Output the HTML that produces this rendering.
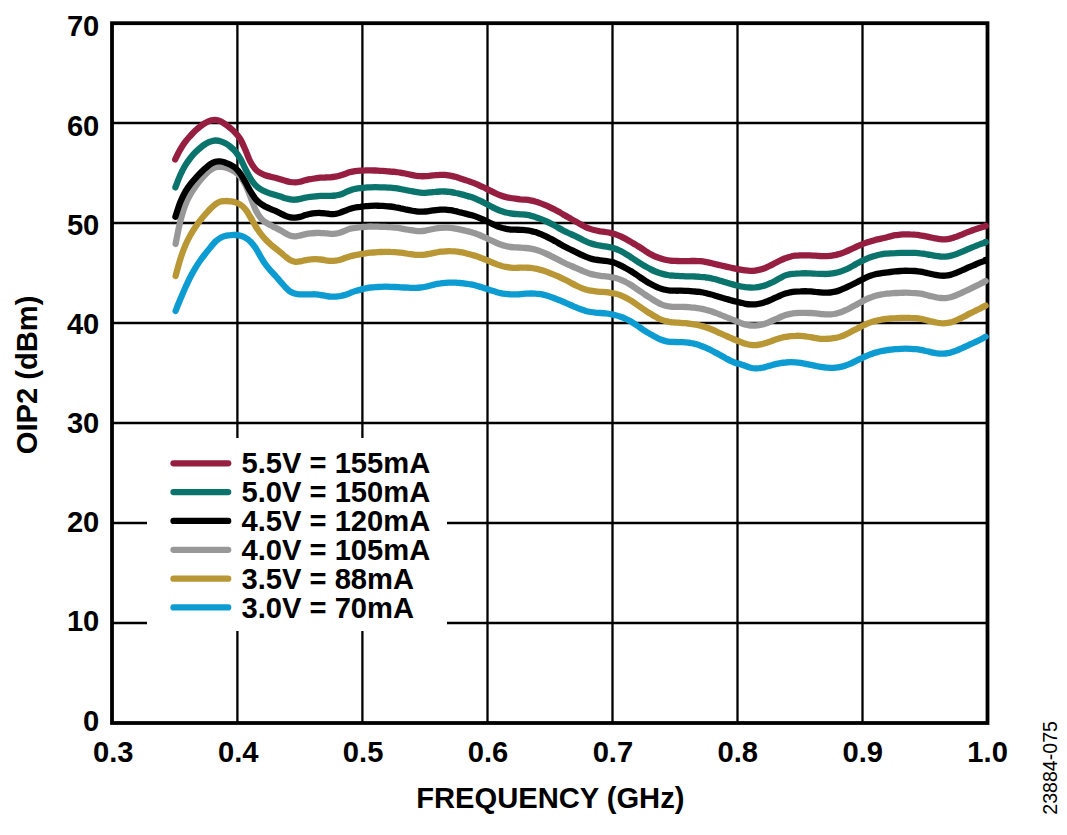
<!DOCTYPE html>
<html><head><meta charset="utf-8"><style>
html,body{margin:0;padding:0;background:#fff;width:1067px;height:835px;overflow:hidden}
svg{display:block}
text{font-family:"Liberation Sans",sans-serif;font-weight:bold;fill:#000}
</style></head><body>
<svg width="1067" height="835" viewBox="0 0 1067 835">
<rect width="1067" height="835" fill="#fff"/>
<!-- grid -->
<g stroke="#000" stroke-width="2.3" fill="none">
<path d="M237.4 23V723M362.4 23V723M487.5 23V723M612.5 23V723M737.5 23V723M862.5 23V723"/>
<path d="M112 123H987.5M112 223H987.5M112 323H987.5M112 423H987.5M112 523H987.5M112 623H987.5"/>
</g>
<!-- legend box -->
<rect x="147" y="438" width="300" height="193" fill="#fff"/>
<!-- frame -->
<rect x="112" y="23.2" width="875.5" height="699.8" fill="none" stroke="#000" stroke-width="3.8"/>
<!-- y tick labels -->
<g font-size="29.8" text-anchor="end">
<text transform="translate(99.3 730.6) scale(0.978 1)">0</text>
<text transform="translate(99.3 631.4) scale(0.978 1)">10</text>
<text transform="translate(99.3 532.3) scale(0.978 1)">20</text>
<text transform="translate(99.3 433.1) scale(0.978 1)">30</text>
<text transform="translate(99.3 333.9) scale(0.978 1)">40</text>
<text transform="translate(99.3 234.8) scale(0.978 1)">50</text>
<text transform="translate(99.3 135.6) scale(0.978 1)">60</text>
<text transform="translate(99.3 36.4) scale(0.978 1)">70</text>
</g>
<!-- x tick labels -->
<g font-size="29.8" text-anchor="middle">
<text transform="translate(113.3 762.1) scale(0.978 1)">0.3</text>
<text transform="translate(238.2 762.1) scale(0.978 1)">0.4</text>
<text transform="translate(363.1 762.1) scale(0.978 1)">0.5</text>
<text transform="translate(488.0 762.1) scale(0.978 1)">0.6</text>
<text transform="translate(612.9 762.1) scale(0.978 1)">0.7</text>
<text transform="translate(737.8 762.1) scale(0.978 1)">0.8</text>
<text transform="translate(862.7 762.1) scale(0.978 1)">0.9</text>
<text transform="translate(987.6 762.1) scale(0.978 1)">1.0</text>
</g>
<text transform="translate(550.3 808.4) scale(0.978 1)" font-size="29.8" text-anchor="middle">FREQUENCY (GHz)</text>
<text transform="translate(36.6 374.9) rotate(-90) scale(0.978 1)" font-size="29.8" text-anchor="middle">OIP2 (dBm)</text>
<text transform="translate(1056.5 767.9) rotate(-90)" font-size="19.6" text-anchor="middle" style="font-weight:normal">23884-075</text>
<!-- legend -->
<g stroke-width="6.3" stroke-linecap="round" fill="none">
<path d="M173.5 463.3H228.2" stroke="#961E40"/>
<path d="M173.5 492.1H228.2" stroke="#0A736C"/>
<path d="M173.5 520.9H228.2" stroke="#000"/>
<path d="M173.5 549.8H228.2" stroke="#989898"/>
<path d="M173.5 578.7H228.2" stroke="#BA9735"/>
<path d="M173.5 607.4H228.2" stroke="#0C9CD2"/>
</g>
<g font-size="29.8">
<text transform="translate(241.5 472.8) scale(0.978 1)">5.5V = 155mA</text>
<text transform="translate(241.5 501.9) scale(0.978 1)">5.0V = 150mA</text>
<text transform="translate(241.5 531.0) scale(0.978 1)">4.5V = 120mA</text>
<text transform="translate(241.5 560.1) scale(0.978 1)">4.0V = 105mA</text>
<text transform="translate(241.5 589.2) scale(0.978 1)">3.5V = 88mA</text>
<text transform="translate(241.5 618.3) scale(0.978 1)">3.0V = 70mA</text>
</g>
<!-- curves -->
<g id="curves" stroke-width="6.3" stroke-linecap="round" stroke-linejoin="round" fill="none">
<path stroke="#0C9CD2" d="M175.6 311.0C176.4 308.9 178.9 302.6 180.6 298.6C182.3 294.6 183.9 290.7 185.6 287.0C187.3 283.4 188.9 279.8 190.6 276.5C192.3 273.3 193.9 270.4 195.6 267.6C197.3 264.8 198.9 262.3 200.6 260.0C202.3 257.6 203.9 255.5 205.6 253.4C207.3 251.3 208.9 249.2 210.6 247.2C212.3 245.2 213.9 243.0 215.6 241.4C217.3 239.9 218.9 238.6 220.6 237.7C222.3 236.8 223.9 236.4 225.6 235.9C227.3 235.5 228.9 235.3 230.6 235.2C232.3 235.0 233.9 234.9 235.6 235.0C237.3 235.1 238.9 235.3 240.6 235.7C242.3 236.2 243.9 236.9 245.6 237.9C247.3 238.9 248.9 240.0 250.6 241.7C252.3 243.4 253.9 245.5 255.6 248.0C257.3 250.4 258.9 253.9 260.6 256.6C262.3 259.4 263.9 262.2 265.6 264.5C267.3 266.8 268.9 268.7 270.6 270.7C272.3 272.6 273.9 274.2 275.6 276.0C277.3 277.9 278.9 279.9 280.6 281.8C282.3 283.7 283.9 285.7 285.6 287.4C287.3 289.1 288.9 290.7 290.6 291.8C292.3 292.8 293.9 293.4 295.6 293.8C297.3 294.3 298.9 294.3 300.6 294.4C302.3 294.5 303.9 294.5 305.6 294.4C307.3 294.4 308.9 294.3 310.6 294.3C312.3 294.3 313.9 294.2 315.6 294.3C317.3 294.5 318.9 294.7 320.6 295.0C322.3 295.2 323.9 295.6 325.6 295.8C327.3 296.1 328.9 296.5 330.6 296.6C332.3 296.7 333.9 296.8 335.6 296.6C337.3 296.5 338.9 296.3 340.6 296.0C342.3 295.6 343.9 295.2 345.6 294.7C347.3 294.1 348.9 293.5 350.6 292.8C352.3 292.2 353.9 291.5 355.6 290.9C357.3 290.4 358.9 290.0 360.6 289.6C362.3 289.1 363.9 288.7 365.6 288.4C367.3 288.0 368.9 287.7 370.6 287.5C372.3 287.3 373.9 287.3 375.6 287.1C377.3 287.0 378.9 287.0 380.6 286.9C382.3 286.8 383.9 286.7 385.6 286.7C387.3 286.7 388.9 286.7 390.6 286.8C392.3 286.8 393.9 286.9 395.6 287.0C397.3 287.1 398.9 287.2 400.6 287.3C402.3 287.4 403.9 287.5 405.6 287.5C407.3 287.6 408.9 287.7 410.6 287.8C412.3 287.8 413.9 287.9 415.6 287.8C417.3 287.8 418.9 287.7 420.6 287.5C422.3 287.4 423.9 287.1 425.6 286.7C427.3 286.4 428.9 285.9 430.6 285.5C432.3 285.1 433.9 284.7 435.6 284.3C437.3 283.9 438.9 283.5 440.6 283.3C442.3 283.0 443.9 282.9 445.6 282.8C447.3 282.7 448.9 282.7 450.6 282.6C452.3 282.6 453.9 282.6 455.6 282.6C457.3 282.7 458.9 282.8 460.6 283.0C462.3 283.1 463.9 283.4 465.6 283.6C467.3 283.9 468.9 284.1 470.6 284.4C472.3 284.7 473.9 285.1 475.6 285.5C477.3 285.9 478.9 286.4 480.6 286.9C482.3 287.4 483.9 288.0 485.6 288.5C487.3 289.1 488.9 289.7 490.6 290.3C492.3 290.8 493.9 291.4 495.6 291.8C497.3 292.3 498.9 292.8 500.6 293.1C502.3 293.5 503.9 293.7 505.6 293.9C507.3 294.1 508.9 294.2 510.6 294.3C512.3 294.4 513.9 294.4 515.6 294.4C517.3 294.3 518.9 294.3 520.6 294.1C522.3 294.0 523.9 293.8 525.6 293.7C527.3 293.6 528.9 293.5 530.6 293.4C532.3 293.4 533.9 293.4 535.6 293.6C537.3 293.7 538.9 293.9 540.6 294.2C542.3 294.5 543.9 294.9 545.6 295.3C547.3 295.8 548.9 296.3 550.6 296.9C552.3 297.5 553.9 298.1 555.6 298.7C557.3 299.4 558.9 300.0 560.6 300.7C562.3 301.4 563.9 302.1 565.6 302.8C567.3 303.5 568.9 304.3 570.6 305.0C572.3 305.7 573.9 306.5 575.6 307.2C577.3 307.9 578.9 308.6 580.6 309.2C582.3 309.8 583.9 310.4 585.6 310.9C587.3 311.4 588.9 311.7 590.6 312.0C592.3 312.3 593.9 312.5 595.6 312.7C597.3 312.8 598.9 312.9 600.6 313.0C602.3 313.1 603.9 313.2 605.6 313.4C607.3 313.6 608.9 313.8 610.6 314.2C612.3 314.5 613.9 314.9 615.6 315.3C617.3 315.7 618.9 316.2 620.6 316.8C622.3 317.4 623.9 318.0 625.6 318.8C627.3 319.5 628.9 320.3 630.6 321.3C632.3 322.3 633.9 323.4 635.6 324.5C637.3 325.7 638.9 326.9 640.6 328.0C642.3 329.1 643.9 330.3 645.6 331.3C647.3 332.4 648.9 333.3 650.6 334.3C652.3 335.2 653.9 336.1 655.6 337.0C657.3 337.9 658.9 338.9 660.6 339.5C662.3 340.2 663.9 340.7 665.6 341.1C667.3 341.5 668.9 341.7 670.6 341.9C672.3 342.0 673.9 342.0 675.6 342.0C677.3 342.1 678.9 342.0 680.6 342.1C682.3 342.2 683.9 342.2 685.6 342.4C687.3 342.6 688.9 342.8 690.6 343.0C692.3 343.3 693.9 343.7 695.6 344.1C697.3 344.6 698.9 345.1 700.6 345.7C702.3 346.3 703.9 346.9 705.6 347.7C707.3 348.4 708.9 349.2 710.6 350.0C712.3 350.8 713.9 351.7 715.6 352.6C717.3 353.5 718.9 354.5 720.6 355.4C722.3 356.3 723.9 357.3 725.6 358.2C727.3 359.1 728.9 360.0 730.6 360.8C732.3 361.6 733.9 362.4 735.6 363.0C737.3 363.6 738.9 363.7 740.6 364.2C742.3 364.7 743.9 365.4 745.6 366.0C747.3 366.6 748.9 367.3 750.6 367.7C752.3 368.1 753.9 368.3 755.6 368.3C757.3 368.4 758.9 368.3 760.6 368.0C762.3 367.8 763.9 367.4 765.6 367.0C767.3 366.6 768.9 366.0 770.6 365.5C772.3 365.1 773.9 364.5 775.6 364.1C777.3 363.7 778.9 363.4 780.6 363.1C782.3 362.8 783.9 362.6 785.6 362.5C787.3 362.3 788.9 362.2 790.6 362.2C792.3 362.2 793.9 362.2 795.6 362.3C797.3 362.5 798.9 362.7 800.6 362.9C802.3 363.2 803.9 363.5 805.6 363.8C807.3 364.1 808.9 364.5 810.6 364.8C812.3 365.2 813.9 365.5 815.6 365.9C817.3 366.2 818.9 366.6 820.6 366.8C822.3 367.1 823.9 367.3 825.6 367.5C827.3 367.6 828.9 367.8 830.6 367.8C832.3 367.8 833.9 367.8 835.6 367.6C837.3 367.5 838.9 367.3 840.6 366.9C842.3 366.6 843.9 366.1 845.6 365.5C847.3 365.0 848.9 364.3 850.6 363.6C852.3 362.8 853.9 362.0 855.6 361.1C857.3 360.3 858.9 359.5 860.6 358.7C862.3 357.8 863.9 357.0 865.6 356.3C867.3 355.6 868.9 354.9 870.6 354.3C872.3 353.7 873.9 353.1 875.6 352.6C877.3 352.2 878.9 351.7 880.6 351.3C882.3 350.9 883.9 350.6 885.6 350.3C887.3 350.1 888.9 349.9 890.6 349.7C892.3 349.5 893.9 349.4 895.6 349.2C897.3 349.1 898.9 349.0 900.6 348.9C902.3 348.8 903.9 348.7 905.6 348.7C907.3 348.7 908.9 348.7 910.6 348.8C912.3 348.9 913.9 349.0 915.6 349.2C917.3 349.4 918.9 349.6 920.6 349.9C922.3 350.2 923.9 350.6 925.6 351.0C927.3 351.3 928.9 351.7 930.6 352.1C932.3 352.5 933.9 352.8 935.6 353.1C937.3 353.3 938.9 353.6 940.6 353.7C942.3 353.7 943.9 353.7 945.6 353.5C947.3 353.3 948.9 353.0 950.6 352.6C952.3 352.1 953.9 351.5 955.6 350.9C957.3 350.3 958.9 349.5 960.6 348.7C962.3 348.0 963.9 347.2 965.6 346.5C967.3 345.7 968.9 345.0 970.6 344.2C972.3 343.5 973.9 342.7 975.6 341.9C977.3 341.1 978.9 340.4 980.6 339.5C982.3 338.6 984.8 337.2 985.6 336.7"/>
<path stroke="#BA9735" d="M175.6 276.0C176.4 273.0 178.9 263.4 180.6 258.2C182.3 253.0 183.9 248.7 185.6 244.8C187.3 240.9 188.9 237.8 190.6 234.8C192.3 231.8 193.9 229.2 195.6 226.7C197.3 224.2 198.9 222.1 200.6 219.9C202.3 217.8 203.9 215.9 205.6 214.0C207.3 212.1 208.9 210.2 210.6 208.6C212.3 206.9 213.9 205.3 215.6 204.1C217.3 202.9 218.9 202.1 220.6 201.6C222.3 201.1 223.9 201.0 225.6 201.0C227.3 200.9 228.9 201.1 230.6 201.3C232.3 201.6 233.9 201.8 235.6 202.4C237.3 202.9 238.9 203.5 240.6 204.7C242.3 205.9 243.9 207.4 245.6 209.6C247.3 211.7 248.9 214.7 250.6 217.5C252.3 220.2 253.9 223.5 255.6 226.2C257.3 228.9 258.9 231.4 260.6 233.6C262.3 235.8 263.9 237.7 265.6 239.5C267.3 241.3 268.9 242.8 270.6 244.3C272.3 245.8 273.9 247.1 275.6 248.4C277.3 249.8 278.9 251.1 280.6 252.4C282.3 253.8 283.9 255.4 285.6 256.7C287.3 258.0 288.9 259.5 290.6 260.3C292.3 261.2 293.9 261.6 295.6 261.8C297.3 262.0 298.9 261.6 300.6 261.3C302.3 261.0 303.9 260.5 305.6 260.1C307.3 259.8 308.9 259.5 310.6 259.4C312.3 259.2 313.9 259.2 315.6 259.2C317.3 259.2 318.9 259.4 320.6 259.5C322.3 259.7 323.9 260.0 325.6 260.3C327.3 260.5 328.9 260.9 330.6 260.9C332.3 261.0 333.9 260.9 335.6 260.7C337.3 260.5 338.9 260.0 340.6 259.6C342.3 259.1 343.9 258.4 345.6 257.8C347.3 257.3 348.9 256.7 350.6 256.2C352.3 255.7 353.9 255.4 355.6 255.0C357.3 254.7 358.9 254.5 360.6 254.2C362.3 253.9 363.9 253.6 365.6 253.4C367.3 253.1 368.9 252.9 370.6 252.7C372.3 252.6 373.9 252.4 375.6 252.3C377.3 252.2 378.9 252.1 380.6 252.0C382.3 251.9 383.9 251.8 385.6 251.8C387.3 251.8 388.9 251.8 390.6 251.9C392.3 251.9 393.9 252.0 395.6 252.2C397.3 252.3 398.9 252.5 400.6 252.7C402.3 253.0 403.9 253.2 405.6 253.4C407.3 253.7 408.9 254.0 410.6 254.2C412.3 254.4 413.9 254.7 415.6 254.8C417.3 254.9 418.9 255.0 420.6 254.9C422.3 254.9 423.9 254.7 425.6 254.5C427.3 254.3 428.9 253.9 430.6 253.6C432.3 253.2 433.9 252.9 435.6 252.6C437.3 252.3 438.9 251.9 440.6 251.7C442.3 251.5 443.9 251.4 445.6 251.3C447.3 251.2 448.9 251.1 450.6 251.2C452.3 251.2 453.9 251.2 455.6 251.4C457.3 251.5 458.9 251.8 460.6 252.1C462.3 252.4 463.9 252.8 465.6 253.2C467.3 253.6 468.9 254.0 470.6 254.5C472.3 254.9 473.9 255.4 475.6 255.9C477.3 256.5 478.9 257.1 480.6 257.7C482.3 258.3 483.9 259.0 485.6 259.7C487.3 260.3 488.9 261.1 490.6 261.8C492.3 262.5 493.9 263.2 495.6 263.8C497.3 264.5 498.9 265.1 500.6 265.6C502.3 266.2 503.9 266.6 505.6 266.9C507.3 267.2 508.9 267.5 510.6 267.6C512.3 267.8 513.9 267.8 515.6 267.8C517.3 267.8 518.9 267.7 520.6 267.7C522.3 267.7 523.9 267.6 525.6 267.6C527.3 267.7 528.9 267.8 530.6 267.9C532.3 268.1 533.9 268.3 535.6 268.7C537.3 269.0 538.9 269.4 540.6 269.9C542.3 270.3 543.9 270.8 545.6 271.4C547.3 272.0 548.9 272.6 550.6 273.3C552.3 274.0 553.9 274.6 555.6 275.4C557.3 276.1 558.9 276.8 560.6 277.6C562.3 278.4 563.9 279.2 565.6 280.0C567.3 280.9 568.9 281.8 570.6 282.7C572.3 283.6 573.9 284.5 575.6 285.3C577.3 286.1 578.9 287.0 580.6 287.6C582.3 288.3 583.9 288.9 585.6 289.5C587.3 290.0 588.9 290.4 590.6 290.7C592.3 291.0 593.9 291.2 595.6 291.4C597.3 291.6 598.9 291.7 600.6 291.8C602.3 291.9 603.9 292.0 605.6 292.1C607.3 292.3 608.9 292.5 610.6 292.8C612.3 293.1 613.9 293.4 615.6 293.8C617.3 294.2 618.9 294.7 620.6 295.3C622.3 296.0 623.9 296.7 625.6 297.6C627.3 298.4 628.9 299.4 630.6 300.4C632.3 301.4 633.9 302.6 635.6 303.7C637.3 304.9 638.9 306.1 640.6 307.2C642.3 308.4 643.9 309.5 645.6 310.6C647.3 311.7 648.9 312.8 650.6 313.8C652.3 314.8 653.9 315.9 655.6 316.8C657.3 317.7 658.9 318.7 660.6 319.4C662.3 320.1 663.9 320.7 665.6 321.1C667.3 321.6 668.9 321.9 670.6 322.1C672.3 322.4 673.9 322.4 675.6 322.6C677.3 322.7 678.9 322.7 680.6 322.8C682.3 323.0 683.9 323.1 685.6 323.2C687.3 323.4 688.9 323.6 690.6 323.8C692.3 324.1 693.9 324.3 695.6 324.7C697.3 325.0 698.9 325.3 700.6 325.7C702.3 326.2 703.9 326.6 705.6 327.2C707.3 327.7 708.9 328.4 710.6 329.0C712.3 329.7 713.9 330.4 715.6 331.2C717.3 331.9 718.9 332.7 720.6 333.4C722.3 334.1 723.9 334.9 725.6 335.6C727.3 336.4 728.9 337.1 730.6 337.8C732.3 338.6 733.9 339.3 735.6 340.0C737.3 340.7 738.9 341.3 740.6 342.0C742.3 342.6 743.9 343.3 745.6 343.8C747.3 344.3 748.9 344.7 750.6 344.9C752.3 345.1 753.9 345.2 755.6 345.1C757.3 345.0 758.9 344.6 760.6 344.3C762.3 344.0 763.9 343.5 765.6 343.0C767.3 342.5 768.9 341.9 770.6 341.4C772.3 340.8 773.9 340.1 775.6 339.5C777.3 339.0 778.9 338.5 780.6 338.0C782.3 337.6 783.9 337.2 785.6 336.9C787.3 336.6 788.9 336.3 790.6 336.1C792.3 335.9 793.9 335.8 795.6 335.8C797.3 335.7 798.9 335.8 800.6 335.9C802.3 336.0 803.9 336.1 805.6 336.4C807.3 336.6 808.9 336.9 810.6 337.1C812.3 337.4 813.9 337.8 815.6 338.1C817.3 338.4 818.9 338.7 820.6 338.8C822.3 338.9 823.9 338.9 825.6 338.9C827.3 338.8 828.9 338.7 830.6 338.6C832.3 338.4 833.9 338.2 835.6 337.9C837.3 337.6 838.9 337.2 840.6 336.6C842.3 336.1 843.9 335.3 845.6 334.5C847.3 333.8 848.9 332.9 850.6 332.0C852.3 331.2 853.9 330.3 855.6 329.4C857.3 328.5 858.9 327.6 860.6 326.8C862.3 325.9 863.9 325.1 865.6 324.4C867.3 323.6 868.9 323.0 870.6 322.4C872.3 321.8 873.9 321.3 875.6 320.9C877.3 320.4 878.9 320.1 880.6 319.8C882.3 319.4 883.9 319.2 885.6 319.0C887.3 318.8 888.9 318.6 890.6 318.5C892.3 318.4 893.9 318.2 895.6 318.2C897.3 318.1 898.9 318.0 900.6 317.9C902.3 317.9 903.9 317.8 905.6 317.8C907.3 317.8 908.9 317.8 910.6 317.9C912.3 317.9 913.9 318.0 915.6 318.2C917.3 318.4 918.9 318.6 920.6 318.9C922.3 319.2 923.9 319.6 925.6 320.0C927.3 320.4 928.9 320.8 930.6 321.2C932.3 321.6 933.9 322.1 935.6 322.4C937.3 322.7 938.9 323.0 940.6 323.2C942.3 323.3 943.9 323.4 945.6 323.2C947.3 323.1 948.9 322.8 950.6 322.4C952.3 321.9 953.9 321.3 955.6 320.6C957.3 319.9 958.9 319.1 960.6 318.3C962.3 317.5 963.9 316.6 965.6 315.8C967.3 314.9 968.9 314.0 970.6 313.2C972.3 312.4 973.9 311.6 975.6 310.7C977.3 309.9 978.9 309.1 980.6 308.3C982.3 307.4 984.8 306.0 985.6 305.6"/>
<path stroke="#989898" d="M175.6 244.0C176.4 240.0 178.9 226.8 180.6 220.1C182.3 213.5 183.9 208.4 185.6 204.1C187.3 199.7 188.9 197.0 190.6 194.0C192.3 191.1 193.9 188.8 195.6 186.4C197.3 184.0 198.9 181.9 200.6 179.8C202.3 177.8 203.9 175.9 205.6 174.2C207.3 172.5 208.9 171.0 210.6 169.9C212.3 168.7 213.9 167.7 215.6 167.2C217.3 166.6 218.9 166.6 220.6 166.6C222.3 166.7 223.9 167.1 225.6 167.5C227.3 168.0 228.9 168.6 230.6 169.4C232.3 170.2 233.9 171.1 235.6 172.3C237.3 173.6 238.9 174.9 240.6 177.0C242.3 179.1 243.9 181.6 245.6 185.0C247.3 188.4 248.9 193.1 250.6 197.2C252.3 201.3 253.9 206.4 255.6 209.9C257.3 213.3 258.9 215.8 260.6 217.9C262.3 220.0 263.9 221.2 265.6 222.4C267.3 223.6 268.9 224.4 270.6 225.3C272.3 226.2 273.9 226.9 275.6 227.8C277.3 228.7 278.9 229.5 280.6 230.4C282.3 231.3 283.9 232.5 285.6 233.4C287.3 234.3 288.9 235.3 290.6 235.8C292.3 236.3 293.9 236.4 295.6 236.3C297.3 236.2 298.9 235.7 300.6 235.4C302.3 235.0 303.9 234.5 305.6 234.1C307.3 233.8 308.9 233.6 310.6 233.4C312.3 233.2 313.9 233.1 315.6 233.0C317.3 232.9 318.9 232.9 320.6 233.0C322.3 233.0 323.9 233.2 325.6 233.3C327.3 233.5 328.9 233.8 330.6 233.8C332.3 233.9 333.9 233.8 335.6 233.6C337.3 233.4 338.9 233.0 340.6 232.5C342.3 232.0 343.9 231.1 345.6 230.5C347.3 229.8 348.9 229.1 350.6 228.6C352.3 228.2 353.9 228.0 355.6 227.8C357.3 227.5 358.9 227.4 360.6 227.2C362.3 227.1 363.9 226.9 365.6 226.8C367.3 226.7 368.9 226.6 370.6 226.5C372.3 226.5 373.9 226.6 375.6 226.6C377.3 226.7 378.9 226.7 380.6 226.8C382.3 226.8 383.9 226.8 385.6 226.9C387.3 227.0 388.9 227.1 390.6 227.2C392.3 227.3 393.9 227.5 395.6 227.7C397.3 227.9 398.9 228.1 400.6 228.4C402.3 228.7 403.9 229.0 405.6 229.3C407.3 229.6 408.9 229.9 410.6 230.2C412.3 230.5 413.9 230.7 415.6 230.9C417.3 231.1 418.9 231.2 420.6 231.1C422.3 231.1 423.9 230.9 425.6 230.6C427.3 230.3 428.9 229.8 430.6 229.5C432.3 229.2 433.9 228.8 435.6 228.5C437.3 228.2 438.9 228.0 440.6 227.8C442.3 227.7 443.9 227.6 445.6 227.6C447.3 227.7 448.9 227.7 450.6 227.9C452.3 228.0 453.9 228.3 455.6 228.6C457.3 228.9 458.9 229.2 460.6 229.6C462.3 229.9 463.9 230.4 465.6 230.8C467.3 231.2 468.9 231.5 470.6 232.0C472.3 232.5 473.9 233.0 475.6 233.5C477.3 234.1 478.9 234.8 480.6 235.5C482.3 236.2 483.9 237.0 485.6 237.7C487.3 238.5 488.9 239.4 490.6 240.2C492.3 240.9 493.9 241.7 495.6 242.5C497.3 243.2 498.9 243.9 500.6 244.5C502.3 245.1 503.9 245.6 505.6 246.0C507.3 246.4 508.9 246.8 510.6 247.0C512.3 247.2 513.9 247.3 515.6 247.4C517.3 247.5 518.9 247.5 520.6 247.6C522.3 247.7 523.9 247.8 525.6 248.0C527.3 248.2 528.9 248.4 530.6 248.7C532.3 249.0 533.9 249.3 535.6 249.8C537.3 250.3 538.9 250.8 540.6 251.4C542.3 252.0 543.9 252.8 545.6 253.5C547.3 254.2 548.9 255.0 550.6 255.9C552.3 256.7 553.9 257.6 555.6 258.4C557.3 259.3 558.9 260.2 560.6 261.0C562.3 261.9 563.9 262.7 565.6 263.5C567.3 264.3 568.9 264.9 570.6 265.7C572.3 266.4 573.9 267.1 575.6 267.8C577.3 268.5 578.9 269.2 580.6 270.0C582.3 270.7 583.9 271.5 585.6 272.1C587.3 272.8 588.9 273.4 590.6 273.9C592.3 274.3 593.9 274.7 595.6 275.0C597.3 275.4 598.9 275.6 600.6 275.8C602.3 276.1 603.9 276.2 605.6 276.4C607.3 276.6 608.9 276.8 610.6 277.1C612.3 277.3 613.9 277.6 615.6 278.0C617.3 278.5 618.9 279.0 620.6 279.7C622.3 280.3 623.9 281.1 625.6 282.0C627.3 282.8 628.9 283.8 630.6 284.8C632.3 285.8 633.9 287.0 635.6 288.1C637.3 289.2 638.9 290.4 640.6 291.5C642.3 292.7 643.9 293.9 645.6 295.0C647.3 296.1 648.9 297.1 650.6 298.2C652.3 299.2 653.9 300.3 655.6 301.3C657.3 302.3 658.9 303.3 660.6 304.0C662.3 304.8 663.9 305.4 665.6 305.8C667.3 306.3 668.9 306.5 670.6 306.7C672.3 306.9 673.9 306.9 675.6 306.9C677.3 306.9 678.9 306.9 680.6 306.9C682.3 306.9 683.9 307.0 685.6 307.0C687.3 307.1 688.9 307.2 690.6 307.3C692.3 307.4 693.9 307.6 695.6 307.8C697.3 308.0 698.9 308.3 700.6 308.6C702.3 308.9 703.9 309.2 705.6 309.7C707.3 310.1 708.9 310.5 710.6 311.1C712.3 311.6 713.9 312.3 715.6 312.9C717.3 313.5 718.9 314.2 720.6 314.9C722.3 315.5 723.9 316.2 725.6 316.9C727.3 317.5 728.9 318.2 730.6 318.9C732.3 319.5 733.9 320.2 735.6 320.9C737.3 321.5 738.9 322.2 740.6 322.9C742.3 323.5 743.9 324.2 745.6 324.6C747.3 325.1 748.9 325.4 750.6 325.5C752.3 325.7 753.9 325.7 755.6 325.6C757.3 325.5 758.9 325.2 760.6 324.9C762.3 324.5 763.9 324.1 765.6 323.5C767.3 322.9 768.9 322.2 770.6 321.5C772.3 320.7 773.9 319.9 775.6 319.2C777.3 318.5 778.9 317.7 780.6 317.0C782.3 316.3 783.9 315.6 785.6 315.0C787.3 314.5 788.9 314.1 790.6 313.8C792.3 313.5 793.9 313.3 795.6 313.1C797.3 312.9 798.9 312.9 800.6 312.8C802.3 312.8 803.9 312.8 805.6 312.8C807.3 312.8 808.9 312.9 810.6 313.0C812.3 313.1 813.9 313.3 815.6 313.4C817.3 313.6 818.9 313.8 820.6 314.0C822.3 314.1 823.9 314.3 825.6 314.4C827.3 314.5 828.9 314.5 830.6 314.4C832.3 314.3 833.9 314.0 835.6 313.7C837.3 313.3 838.9 312.8 840.6 312.3C842.3 311.7 843.9 311.0 845.6 310.2C847.3 309.5 848.9 308.6 850.6 307.7C852.3 306.9 853.9 305.9 855.6 305.0C857.3 304.1 858.9 303.1 860.6 302.3C862.3 301.4 863.9 300.5 865.6 299.7C867.3 298.9 868.9 298.2 870.6 297.5C872.3 296.9 873.9 296.3 875.6 295.8C877.3 295.3 878.9 294.9 880.6 294.6C882.3 294.2 883.9 294.0 885.6 293.8C887.3 293.6 888.9 293.4 890.6 293.3C892.3 293.2 893.9 293.1 895.6 293.0C897.3 292.9 898.9 292.8 900.6 292.8C902.3 292.8 903.9 292.7 905.6 292.7C907.3 292.7 908.9 292.7 910.6 292.8C912.3 292.8 913.9 292.9 915.6 293.1C917.3 293.3 918.9 293.5 920.6 293.7C922.3 294.0 923.9 294.4 925.6 294.8C927.3 295.2 928.9 295.7 930.6 296.1C932.3 296.5 933.9 296.9 935.6 297.2C937.3 297.6 938.9 297.9 940.6 298.0C942.3 298.2 943.9 298.2 945.6 298.1C947.3 297.9 948.9 297.6 950.6 297.2C952.3 296.8 953.9 296.2 955.6 295.5C957.3 294.9 958.9 294.1 960.6 293.4C962.3 292.6 963.9 291.8 965.6 291.0C967.3 290.2 968.9 289.4 970.6 288.6C972.3 287.8 973.9 287.0 975.6 286.2C977.3 285.4 978.9 284.6 980.6 283.7C982.3 282.9 984.8 281.5 985.6 281.0"/>
<path stroke="#000" d="M175.4 216.8C176.2 214.3 178.7 206.1 180.4 201.9C182.1 197.7 183.7 194.6 185.4 191.6C187.1 188.7 188.7 186.4 190.4 184.2C192.1 182.0 193.7 180.1 195.4 178.3C197.1 176.4 198.7 174.7 200.4 173.0C202.1 171.4 203.7 169.7 205.4 168.2C207.1 166.8 208.7 165.3 210.4 164.2C212.1 163.1 213.7 162.2 215.4 161.7C217.1 161.2 218.7 161.2 220.4 161.4C222.1 161.5 223.7 162.1 225.4 162.7C227.1 163.2 228.7 163.9 230.4 164.8C232.1 165.7 233.7 166.5 235.4 168.0C237.1 169.5 238.7 171.4 240.4 173.8C242.1 176.1 243.7 179.2 245.4 182.1C247.1 185.0 248.7 188.5 250.4 191.2C252.1 194.0 253.7 196.7 255.4 198.8C257.1 200.8 258.7 202.3 260.4 203.6C262.1 204.9 263.7 205.7 265.4 206.6C267.1 207.4 268.7 208.1 270.4 208.8C272.1 209.6 273.7 210.2 275.4 210.9C277.1 211.7 278.7 212.5 280.4 213.3C282.1 214.1 283.7 215.1 285.4 215.8C287.1 216.5 288.7 217.0 290.4 217.3C292.1 217.6 293.7 217.7 295.4 217.7C297.1 217.6 298.7 217.2 300.4 216.8C302.1 216.4 303.7 215.6 305.4 215.1C307.1 214.6 308.7 214.2 310.4 213.8C312.1 213.5 313.7 213.3 315.4 213.1C317.1 213.0 318.7 212.9 320.4 213.0C322.1 213.0 323.7 213.2 325.4 213.4C327.1 213.6 328.7 214.0 330.4 214.1C332.1 214.2 333.7 214.1 335.4 213.9C337.1 213.6 338.7 213.2 340.4 212.6C342.1 212.1 343.7 211.3 345.4 210.6C347.1 209.9 348.7 209.2 350.4 208.7C352.1 208.2 353.7 207.8 355.4 207.5C357.1 207.2 358.7 207.0 360.4 206.8C362.1 206.5 363.7 206.3 365.4 206.2C367.1 206.0 368.7 205.9 370.4 205.8C372.1 205.7 373.7 205.7 375.4 205.7C377.1 205.7 378.7 205.8 380.4 205.8C382.1 205.9 383.7 206.0 385.4 206.1C387.1 206.2 388.7 206.4 390.4 206.5C392.1 206.7 393.7 207.0 395.4 207.3C397.1 207.5 398.7 207.9 400.4 208.3C402.1 208.6 403.7 209.0 405.4 209.4C407.1 209.7 408.7 210.1 410.4 210.4C412.1 210.7 413.7 211.0 415.4 211.2C417.1 211.4 418.7 211.6 420.4 211.7C422.1 211.7 423.7 211.7 425.4 211.5C427.1 211.4 428.7 211.1 430.4 210.8C432.1 210.6 433.7 210.3 435.4 210.1C437.1 209.9 438.7 209.7 440.4 209.6C442.1 209.5 443.7 209.5 445.4 209.6C447.1 209.7 448.7 209.9 450.4 210.1C452.1 210.4 453.7 210.8 455.4 211.2C457.1 211.5 458.7 212.0 460.4 212.4C462.1 212.8 463.7 213.2 465.4 213.6C467.1 214.0 468.7 214.4 470.4 214.9C472.1 215.3 473.7 215.8 475.4 216.4C477.1 217.0 478.7 217.6 480.4 218.3C482.1 219.0 483.7 219.8 485.4 220.5C487.1 221.3 488.7 222.2 490.4 223.0C492.1 223.8 493.7 224.6 495.4 225.3C497.1 226.1 498.7 226.8 500.4 227.4C502.1 228.0 503.7 228.4 505.4 228.7C507.1 229.1 508.7 229.3 510.4 229.5C512.1 229.6 513.7 229.6 515.4 229.7C517.1 229.8 518.7 229.7 520.4 229.8C522.1 229.9 523.7 229.9 525.4 230.1C527.1 230.2 528.7 230.5 530.4 230.8C532.1 231.1 533.7 231.6 535.4 232.1C537.1 232.6 538.7 233.3 540.4 233.9C542.1 234.6 543.7 235.4 545.4 236.2C547.1 237.0 548.7 237.8 550.4 238.7C552.1 239.5 553.7 240.4 555.4 241.3C557.1 242.2 558.7 243.3 560.4 244.2C562.1 245.2 563.7 246.1 565.4 247.0C567.1 247.9 568.7 248.7 570.4 249.5C572.1 250.3 573.7 251.1 575.4 251.9C577.1 252.7 578.7 253.5 580.4 254.3C582.1 255.1 583.7 255.9 585.4 256.6C587.1 257.3 588.7 257.9 590.4 258.4C592.1 258.9 593.7 259.3 595.4 259.7C597.1 260.0 598.7 260.2 600.4 260.3C602.1 260.5 603.7 260.6 605.4 260.8C607.1 261.0 608.7 261.3 610.4 261.7C612.1 262.0 613.7 262.5 615.4 263.1C617.1 263.7 618.7 264.6 620.4 265.4C622.1 266.2 623.7 267.1 625.4 268.0C627.1 268.8 628.7 269.7 630.4 270.8C632.1 271.8 633.7 272.9 635.4 274.0C637.1 275.2 638.7 276.4 640.4 277.5C642.1 278.6 643.7 279.8 645.4 280.9C647.1 281.9 648.7 282.9 650.4 283.8C652.1 284.7 653.7 285.6 655.4 286.3C657.1 287.1 658.7 287.8 660.4 288.4C662.1 288.9 663.7 289.4 665.4 289.8C667.1 290.2 668.7 290.4 670.4 290.6C672.1 290.8 673.7 290.7 675.4 290.7C677.1 290.8 678.7 290.7 680.4 290.7C682.1 290.8 683.7 290.8 685.4 290.8C687.1 290.9 688.7 291.0 690.4 291.1C692.1 291.2 693.7 291.3 695.4 291.5C697.1 291.6 698.7 291.8 700.4 292.0C702.1 292.3 703.7 292.6 705.4 293.0C707.1 293.4 708.7 293.8 710.4 294.3C712.1 294.7 713.7 295.2 715.4 295.8C717.1 296.3 718.7 296.8 720.4 297.3C722.1 297.8 723.7 298.3 725.4 298.7C727.1 299.2 728.7 299.6 730.4 300.1C732.1 300.5 733.7 300.9 735.4 301.4C737.1 301.8 738.7 302.2 740.4 302.6C742.1 303.0 743.7 303.5 745.4 303.8C747.1 304.1 748.7 304.3 750.4 304.4C752.1 304.5 753.7 304.5 755.4 304.4C757.1 304.2 758.7 303.9 760.4 303.5C762.1 303.1 763.7 302.6 765.4 302.0C767.1 301.4 768.7 300.7 770.4 300.0C772.1 299.2 773.7 298.5 775.4 297.7C777.1 297.0 778.7 296.2 780.4 295.5C782.1 294.8 783.7 294.1 785.4 293.6C787.1 293.1 788.7 292.7 790.4 292.3C792.1 292.0 793.7 291.8 795.4 291.6C797.1 291.4 798.7 291.3 800.4 291.3C802.1 291.2 803.7 291.2 805.4 291.2C807.1 291.3 808.7 291.3 810.4 291.4C812.1 291.6 813.7 291.7 815.4 291.9C817.1 292.0 818.7 292.2 820.4 292.3C822.1 292.5 823.7 292.6 825.4 292.6C827.1 292.7 828.7 292.7 830.4 292.5C832.1 292.4 833.7 292.0 835.4 291.6C837.1 291.2 838.7 290.6 840.4 290.0C842.1 289.4 843.7 288.6 845.4 287.9C847.1 287.1 848.7 286.3 850.4 285.5C852.1 284.7 853.7 283.9 855.4 283.0C857.1 282.2 858.7 281.2 860.4 280.4C862.1 279.5 863.7 278.6 865.4 277.8C867.1 277.0 868.7 276.3 870.4 275.7C872.1 275.1 873.7 274.6 875.4 274.2C877.1 273.8 878.7 273.6 880.4 273.3C882.1 273.1 883.7 272.9 885.4 272.6C887.1 272.4 888.7 272.2 890.4 272.0C892.1 271.8 893.7 271.6 895.4 271.4C897.1 271.2 898.7 271.1 900.4 271.0C902.1 270.9 903.7 270.8 905.4 270.7C907.1 270.7 908.7 270.7 910.4 270.8C912.1 270.8 913.7 270.9 915.4 271.0C917.1 271.2 918.7 271.4 920.4 271.6C922.1 271.9 923.7 272.3 925.4 272.7C927.1 273.0 928.7 273.5 930.4 273.8C932.1 274.2 933.7 274.6 935.4 274.9C937.1 275.2 938.7 275.5 940.4 275.6C942.1 275.7 943.7 275.8 945.4 275.7C947.1 275.6 948.7 275.3 950.4 274.9C952.1 274.5 953.7 273.9 955.4 273.2C957.1 272.6 958.7 271.8 960.4 271.1C962.1 270.3 963.7 269.5 965.4 268.8C967.1 268.0 968.7 267.3 970.4 266.6C972.1 265.8 973.7 265.2 975.4 264.5C977.1 263.8 978.7 263.0 980.4 262.4C982.1 261.8 984.5 261.0 985.4 260.6C986.3 260.2 985.6 260.1 985.6 260.0"/>
<path stroke="#0A736C" d="M175.4 187.4C176.2 185.3 178.7 178.5 180.4 174.8C182.1 171.1 183.7 168.0 185.4 165.2C187.1 162.5 188.7 160.2 190.4 158.0C192.1 155.9 193.7 154.0 195.4 152.3C197.1 150.6 198.7 149.1 200.4 147.7C202.1 146.3 203.7 145.1 205.4 144.0C207.1 143.0 208.7 142.1 210.4 141.6C212.1 141.0 213.7 140.6 215.4 140.5C217.1 140.4 218.7 140.7 220.4 141.2C222.1 141.6 223.7 142.3 225.4 143.3C227.1 144.2 228.7 145.3 230.4 146.7C232.1 148.1 233.7 149.5 235.4 151.5C237.1 153.6 238.7 156.0 240.4 158.9C242.1 161.8 243.7 165.7 245.4 168.9C247.1 172.1 248.7 175.7 250.4 178.4C252.1 181.1 253.7 183.3 255.4 185.1C257.1 186.9 258.7 188.0 260.4 189.1C262.1 190.2 263.7 191.0 265.4 191.7C267.1 192.4 268.7 193.0 270.4 193.6C272.1 194.1 273.7 194.6 275.4 195.1C277.1 195.6 278.7 196.1 280.4 196.6C282.1 197.1 283.7 197.7 285.4 198.2C287.1 198.6 288.7 199.1 290.4 199.4C292.1 199.7 293.7 199.8 295.4 199.7C297.1 199.6 298.7 199.2 300.4 198.9C302.1 198.6 303.7 198.0 305.4 197.7C307.1 197.3 308.7 197.1 310.4 196.9C312.1 196.7 313.7 196.5 315.4 196.3C317.1 196.2 318.7 196.0 320.4 195.9C322.1 195.8 323.7 195.8 325.4 195.8C327.1 195.8 328.7 195.9 330.4 195.9C332.1 195.8 333.7 195.7 335.4 195.5C337.1 195.2 338.7 194.9 340.4 194.4C342.1 193.9 343.7 193.1 345.4 192.4C347.1 191.7 348.7 190.8 350.4 190.2C352.1 189.6 353.7 189.2 355.4 188.8C357.1 188.5 358.7 188.3 360.4 188.1C362.1 187.9 363.7 187.7 365.4 187.6C367.1 187.5 368.7 187.3 370.4 187.3C372.1 187.2 373.7 187.2 375.4 187.2C377.1 187.2 378.7 187.2 380.4 187.3C382.1 187.3 383.7 187.3 385.4 187.4C387.1 187.5 388.7 187.6 390.4 187.7C392.1 187.8 393.7 188.0 395.4 188.2C397.1 188.4 398.7 188.7 400.4 189.0C402.1 189.3 403.7 189.7 405.4 190.0C407.1 190.3 408.7 190.7 410.4 191.0C412.1 191.3 413.7 191.6 415.4 191.9C417.1 192.2 418.7 192.5 420.4 192.6C422.1 192.8 423.7 192.8 425.4 192.8C427.1 192.7 428.7 192.5 430.4 192.3C432.1 192.2 433.7 192.0 435.4 191.9C437.1 191.7 438.7 191.6 440.4 191.5C442.1 191.4 443.7 191.5 445.4 191.5C447.1 191.6 448.7 191.8 450.4 192.0C452.1 192.2 453.7 192.6 455.4 193.0C457.1 193.3 458.7 193.7 460.4 194.1C462.1 194.6 463.7 195.0 465.4 195.4C467.1 195.9 468.7 196.3 470.4 196.8C472.1 197.3 473.7 197.9 475.4 198.6C477.1 199.3 478.7 200.1 480.4 200.9C482.1 201.7 483.7 202.6 485.4 203.5C487.1 204.4 488.7 205.3 490.4 206.2C492.1 207.0 493.7 207.9 495.4 208.6C497.1 209.4 498.7 210.1 500.4 210.8C502.1 211.4 503.7 211.9 505.4 212.4C507.1 212.8 508.7 213.2 510.4 213.4C512.1 213.7 513.7 213.9 515.4 214.0C517.1 214.2 518.7 214.2 520.4 214.4C522.1 214.5 523.7 214.5 525.4 214.7C527.1 215.0 528.7 215.2 530.4 215.6C532.1 216.0 533.7 216.6 535.4 217.1C537.1 217.7 538.7 218.3 540.4 218.9C542.1 219.6 543.7 220.3 545.4 221.0C547.1 221.7 548.7 222.5 550.4 223.4C552.1 224.2 553.7 225.1 555.4 226.0C557.1 226.9 558.7 228.0 560.4 228.9C562.1 229.8 563.7 230.8 565.4 231.6C567.1 232.4 568.7 233.1 570.4 233.9C572.1 234.7 573.7 235.4 575.4 236.1C577.1 236.9 578.7 237.7 580.4 238.6C582.1 239.4 583.7 240.4 585.4 241.2C587.1 242.0 588.7 242.8 590.4 243.3C592.1 243.9 593.7 244.4 595.4 244.7C597.1 245.1 598.7 245.4 600.4 245.7C602.1 246.0 603.7 246.1 605.4 246.4C607.1 246.7 608.7 247.0 610.4 247.3C612.1 247.7 613.7 248.1 615.4 248.7C617.1 249.3 618.7 250.1 620.4 250.9C622.1 251.7 623.7 252.7 625.4 253.7C627.1 254.6 628.7 255.7 630.4 256.8C632.1 257.9 633.7 259.1 635.4 260.2C637.1 261.3 638.7 262.4 640.4 263.4C642.1 264.5 643.7 265.5 645.4 266.4C647.1 267.4 648.7 268.3 650.4 269.1C652.1 270.0 653.7 270.8 655.4 271.5C657.1 272.2 658.7 272.8 660.4 273.3C662.1 273.8 663.7 274.2 665.4 274.6C667.1 275.0 668.7 275.2 670.4 275.5C672.1 275.7 673.7 275.7 675.4 275.8C677.1 275.9 678.7 276.0 680.4 276.1C682.1 276.2 683.7 276.2 685.4 276.3C687.1 276.3 688.7 276.3 690.4 276.3C692.1 276.4 693.7 276.4 695.4 276.5C697.1 276.5 698.7 276.6 700.4 276.8C702.1 276.9 703.7 277.1 705.4 277.3C707.1 277.6 708.7 277.8 710.4 278.1C712.1 278.5 713.7 278.9 715.4 279.3C717.1 279.7 718.7 280.2 720.4 280.7C722.1 281.2 723.7 281.8 725.4 282.3C727.1 282.8 728.7 283.3 730.4 283.8C732.1 284.3 733.7 284.7 735.4 285.1C737.1 285.5 738.7 285.9 740.4 286.3C742.1 286.6 743.7 286.9 745.4 287.2C747.1 287.4 748.7 287.5 750.4 287.5C752.1 287.6 753.7 287.5 755.4 287.4C757.1 287.2 758.7 287.0 760.4 286.6C762.1 286.3 763.7 285.9 765.4 285.3C767.1 284.7 768.7 284.0 770.4 283.2C772.1 282.5 773.7 281.6 775.4 280.7C777.1 279.8 778.7 278.7 780.4 277.9C782.1 277.0 783.7 276.0 785.4 275.4C787.1 274.8 788.7 274.5 790.4 274.2C792.1 273.9 793.7 273.7 795.4 273.6C797.1 273.4 798.7 273.3 800.4 273.3C802.1 273.2 803.7 273.2 805.4 273.2C807.1 273.3 808.7 273.3 810.4 273.4C812.1 273.5 813.7 273.6 815.4 273.7C817.1 273.7 818.7 273.8 820.4 273.9C822.1 273.9 823.7 274.0 825.4 274.0C827.1 273.9 828.7 273.9 830.4 273.7C832.1 273.6 833.7 273.3 835.4 272.9C837.1 272.6 838.7 272.1 840.4 271.6C842.1 271.0 843.7 270.4 845.4 269.7C847.1 269.0 848.7 268.1 850.4 267.2C852.1 266.4 853.7 265.3 855.4 264.4C857.1 263.5 858.7 262.6 860.4 261.7C862.1 260.9 863.7 260.1 865.4 259.4C867.1 258.6 868.7 257.9 870.4 257.3C872.1 256.7 873.7 256.1 875.4 255.7C877.1 255.2 878.7 254.8 880.4 254.5C882.1 254.2 883.7 253.9 885.4 253.7C887.1 253.5 888.7 253.4 890.4 253.3C892.1 253.2 893.7 253.1 895.4 253.1C897.1 253.0 898.7 252.9 900.4 252.9C902.1 252.9 903.7 252.8 905.4 252.8C907.1 252.8 908.7 252.8 910.4 252.8C912.1 252.8 913.7 252.9 915.4 252.9C917.1 253.0 918.7 253.1 920.4 253.3C922.1 253.4 923.7 253.7 925.4 254.0C927.1 254.3 928.7 254.7 930.4 254.9C932.1 255.2 933.7 255.5 935.4 255.8C937.1 256.1 938.7 256.3 940.4 256.5C942.1 256.6 943.7 256.8 945.4 256.7C947.1 256.6 948.7 256.3 950.4 255.9C952.1 255.5 953.7 255.0 955.4 254.4C957.1 253.8 958.7 253.1 960.4 252.4C962.1 251.8 963.7 251.0 965.4 250.3C967.1 249.6 968.7 248.8 970.4 248.1C972.1 247.4 973.7 246.7 975.4 246.1C977.1 245.4 978.7 244.7 980.4 244.1C982.1 243.5 984.5 242.9 985.4 242.5C986.3 242.2 985.6 242.1 985.6 242.0"/>
<path stroke="#961E40" d="M175.2 159.4C176.0 157.8 178.5 152.5 180.2 149.6C181.9 146.7 183.5 144.2 185.2 141.9C186.9 139.7 188.5 137.9 190.2 136.0C191.9 134.2 193.5 132.5 195.2 130.8C196.9 129.2 198.5 127.7 200.2 126.4C201.9 125.1 203.5 124.0 205.2 123.0C206.9 122.1 208.5 121.2 210.2 120.7C211.9 120.2 213.5 119.7 215.2 119.8C216.9 119.9 218.5 120.4 220.2 121.2C221.9 121.9 223.5 123.1 225.2 124.2C226.9 125.4 228.5 126.6 230.2 128.0C231.9 129.4 233.5 130.7 235.2 132.6C236.9 134.4 238.5 136.2 240.2 139.0C241.9 141.8 243.5 145.7 245.2 149.5C246.9 153.2 248.5 158.1 250.2 161.4C251.9 164.7 253.5 167.1 255.2 169.0C256.9 170.9 258.5 171.9 260.2 172.9C261.9 174.0 263.5 174.6 265.2 175.2C266.9 175.8 268.5 176.1 270.2 176.6C271.9 177.0 273.5 177.4 275.2 177.8C276.9 178.3 278.5 178.8 280.2 179.3C281.9 179.8 283.5 180.3 285.2 180.7C286.9 181.2 288.5 181.7 290.2 182.0C291.9 182.3 293.5 182.4 295.2 182.4C296.9 182.3 298.5 182.0 300.2 181.7C301.9 181.3 303.5 180.7 305.2 180.3C306.9 179.9 308.5 179.5 310.2 179.2C311.9 178.8 313.5 178.5 315.2 178.3C316.9 178.0 318.5 177.9 320.2 177.7C321.9 177.6 323.5 177.5 325.2 177.5C326.9 177.4 328.5 177.4 330.2 177.3C331.9 177.2 333.5 177.0 335.2 176.7C336.9 176.4 338.5 176.0 340.2 175.5C341.9 175.0 343.5 174.4 345.2 173.8C346.9 173.2 348.5 172.6 350.2 172.1C351.9 171.7 353.5 171.4 355.2 171.1C356.9 170.9 358.5 170.8 360.2 170.7C361.9 170.6 363.5 170.4 365.2 170.4C366.9 170.3 368.5 170.3 370.2 170.3C371.9 170.3 373.5 170.4 375.2 170.5C376.9 170.6 378.5 170.7 380.2 170.8C381.9 170.9 383.5 171.0 385.2 171.1C386.9 171.2 388.5 171.3 390.2 171.5C391.9 171.6 393.5 171.7 395.2 171.9C396.9 172.1 398.5 172.4 400.2 172.6C401.9 172.9 403.5 173.2 405.2 173.5C406.9 173.9 408.5 174.3 410.2 174.6C411.9 175.0 413.5 175.3 415.2 175.6C416.9 175.8 418.5 176.1 420.2 176.2C421.9 176.3 423.5 176.3 425.2 176.2C426.9 176.1 428.5 175.9 430.2 175.7C431.9 175.5 433.5 175.3 435.2 175.2C436.9 175.0 438.5 174.9 440.2 174.8C441.9 174.8 443.5 174.8 445.2 174.9C446.9 175.1 448.5 175.2 450.2 175.6C451.9 175.9 453.5 176.4 455.2 176.8C456.9 177.3 458.5 177.9 460.2 178.4C461.9 178.9 463.5 179.5 465.2 180.0C466.9 180.6 468.5 181.2 470.2 181.7C471.9 182.3 473.5 183.0 475.2 183.6C476.9 184.3 478.5 185.0 480.2 185.8C481.9 186.5 483.5 187.3 485.2 188.1C486.9 188.9 488.5 189.8 490.2 190.6C491.9 191.4 493.5 192.3 495.2 193.1C496.9 193.9 498.5 194.7 500.2 195.3C501.9 195.9 503.5 196.5 505.2 196.9C506.9 197.3 508.5 197.7 510.2 198.0C511.9 198.3 513.5 198.5 515.2 198.7C516.9 198.9 518.5 199.1 520.2 199.3C521.9 199.4 523.5 199.5 525.2 199.7C526.9 199.9 528.5 200.1 530.2 200.4C531.9 200.7 533.5 201.0 535.2 201.5C536.9 201.9 538.5 202.5 540.2 203.1C541.9 203.7 543.5 204.4 545.2 205.1C546.9 205.8 548.5 206.5 550.2 207.3C551.9 208.1 553.5 208.9 555.2 209.8C556.9 210.6 558.5 211.6 560.2 212.6C561.9 213.6 563.5 214.6 565.2 215.6C566.9 216.5 568.5 217.5 570.2 218.4C571.9 219.4 573.5 220.3 575.2 221.2C576.9 222.2 578.5 223.1 580.2 224.1C581.9 225.0 583.5 225.9 585.2 226.8C586.9 227.6 588.5 228.3 590.2 228.9C591.9 229.5 593.5 229.9 595.2 230.3C596.9 230.7 598.5 231.0 600.2 231.3C601.9 231.5 603.5 231.7 605.2 232.0C606.9 232.3 608.5 232.5 610.2 232.9C611.9 233.3 613.5 233.7 615.2 234.2C616.9 234.7 618.5 235.4 620.2 236.1C621.9 236.9 623.5 237.7 625.2 238.6C626.9 239.5 628.5 240.5 630.2 241.5C631.9 242.5 633.5 243.5 635.2 244.5C636.9 245.5 638.5 246.5 640.2 247.5C641.9 248.6 643.5 249.7 645.2 250.8C646.9 251.9 648.5 253.1 650.2 254.0C651.9 255.0 653.5 255.7 655.2 256.5C656.9 257.2 658.5 257.8 660.2 258.3C661.9 258.9 663.5 259.3 665.2 259.7C666.9 260.1 668.5 260.4 670.2 260.6C671.9 260.8 673.5 260.8 675.2 260.9C676.9 261.0 678.5 261.0 680.2 261.1C681.9 261.1 683.5 261.1 685.2 261.1C686.9 261.1 688.5 261.0 690.2 261.0C691.9 260.9 693.5 260.9 695.2 260.9C696.9 261.0 698.5 261.1 700.2 261.2C701.9 261.4 703.5 261.6 705.2 261.9C706.9 262.2 708.5 262.5 710.2 262.9C711.9 263.3 713.5 263.7 715.2 264.1C716.9 264.4 718.5 264.9 720.2 265.3C721.9 265.7 723.5 266.0 725.2 266.4C726.9 266.8 728.5 267.2 730.2 267.5C731.9 267.9 733.5 268.2 735.2 268.6C736.9 268.9 738.5 269.2 740.2 269.6C741.9 269.9 743.5 270.2 745.2 270.4C746.9 270.6 748.5 270.8 750.2 270.8C751.9 270.9 753.5 270.8 755.2 270.6C756.9 270.4 758.5 270.1 760.2 269.6C761.9 269.2 763.5 268.6 765.2 268.0C766.9 267.3 768.5 266.4 770.2 265.6C771.9 264.8 773.5 263.9 775.2 263.0C776.9 262.2 778.5 261.3 780.2 260.5C781.9 259.7 783.5 258.9 785.2 258.3C786.9 257.6 788.5 257.1 790.2 256.7C791.9 256.2 793.5 255.9 795.2 255.7C796.9 255.5 798.5 255.4 800.2 255.3C801.9 255.3 803.5 255.3 805.2 255.3C806.9 255.3 808.5 255.4 810.2 255.4C811.9 255.5 813.5 255.6 815.2 255.7C816.9 255.8 818.5 255.9 820.2 256.0C821.9 256.0 823.5 256.1 825.2 256.1C826.9 256.1 828.5 256.0 830.2 255.9C831.9 255.7 833.5 255.4 835.2 255.1C836.9 254.7 838.5 254.3 840.2 253.8C841.9 253.2 843.5 252.6 845.2 251.9C846.9 251.2 848.5 250.5 850.2 249.7C851.9 248.9 853.5 248.1 855.2 247.3C856.9 246.5 858.5 245.8 860.2 245.1C861.9 244.4 863.5 243.7 865.2 243.1C866.9 242.5 868.5 242.0 870.2 241.5C871.9 240.9 873.5 240.5 875.2 240.0C876.9 239.6 878.5 239.3 880.2 238.9C881.9 238.5 883.5 238.1 885.2 237.7C886.9 237.3 888.5 236.8 890.2 236.4C891.9 235.9 893.5 235.5 895.2 235.2C896.9 234.9 898.5 234.8 900.2 234.6C901.9 234.5 903.5 234.4 905.2 234.3C906.9 234.3 908.5 234.3 910.2 234.4C911.9 234.4 913.5 234.5 915.2 234.7C916.9 234.8 918.5 235.0 920.2 235.3C921.9 235.5 923.5 235.9 925.2 236.2C926.9 236.6 928.5 237.0 930.2 237.3C931.9 237.7 933.5 238.0 935.2 238.3C936.9 238.6 938.5 238.9 940.2 239.1C941.9 239.3 943.5 239.4 945.2 239.3C946.9 239.2 948.5 239.0 950.2 238.6C951.9 238.2 953.5 237.6 955.2 237.1C956.9 236.5 958.5 235.8 960.2 235.1C961.9 234.5 963.5 233.8 965.2 233.1C966.9 232.5 968.5 231.8 970.2 231.2C971.9 230.6 973.5 230.0 975.2 229.4C976.9 228.8 978.5 228.2 980.2 227.7C981.9 227.1 984.3 226.6 985.2 226.3C986.1 226.0 985.5 225.9 985.6 225.8"/>
</g>
</svg>
</body></html>
